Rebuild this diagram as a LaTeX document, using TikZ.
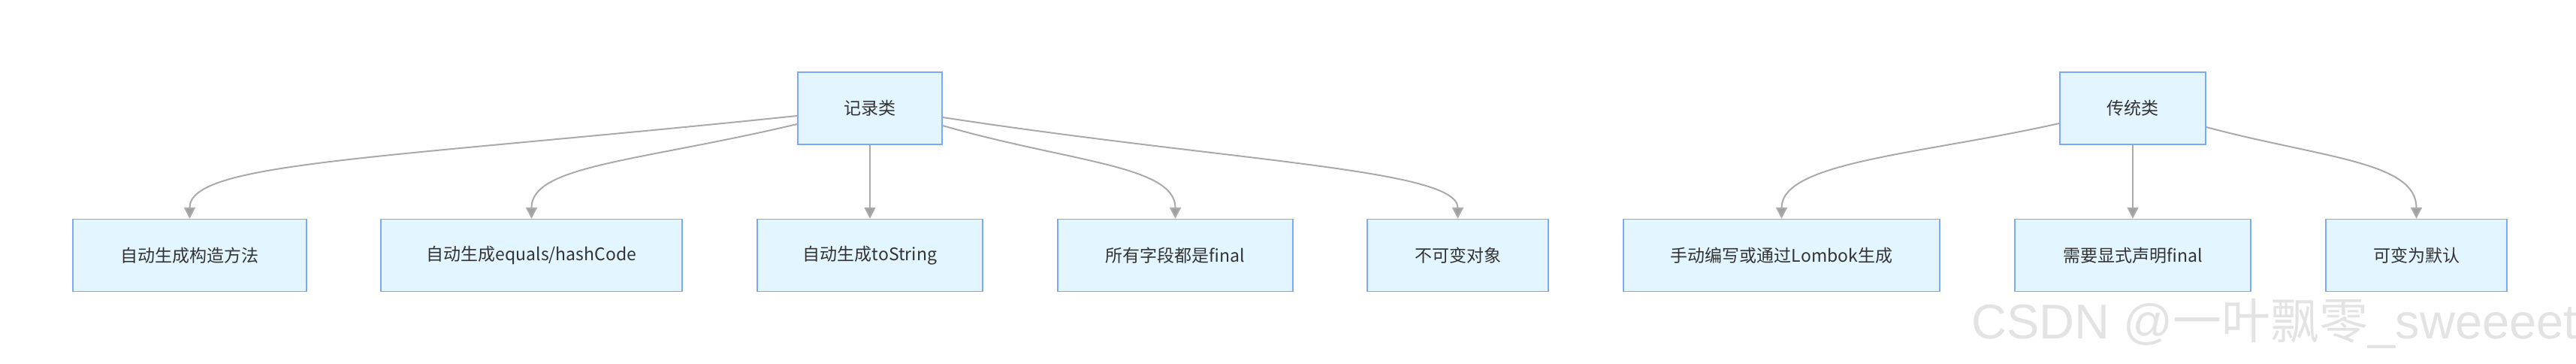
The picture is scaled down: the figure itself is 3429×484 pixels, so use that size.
\documentclass[tikz,border=0pt]{standalone}
\usepackage{fontspec}
\setmainfont{Noto Sans CJK SC}
\newfontfamily\markfont{Liberation Sans}
\newfontfamily\markcjk{Noto Sans CJK SC}
\usetikzlibrary{arrows.meta}
\definecolor{boxfill}{HTML}{E3F5FF}
\definecolor{boxline}{HTML}{7AA9FF}
\definecolor{edgeline}{HTML}{AAAAAA}
\definecolor{tipfill}{HTML}{A0A0A0}
\definecolor{txt}{HTML}{333333}
\begin{document}
\begin{tikzpicture}[x=1pt,y=-1pt,
    box/.style={draw=boxline,line width=1.5pt,fill=boxfill,text=txt,inner sep=0pt,
      minimum height=96pt,font=\fontsize{23}{28}\selectfont},
    edge/.style={draw=edgeline,line width=2pt,
      -{Triangle[length=15pt,width=15pt,fill=tipfill]}}]
  \useasboundingbox (0,0) rectangle (3429,484);
  % record class
  \node[box,minimum width=192pt] (rec) at (1158,144) {记录类};
  \node[box,minimum width=311pt] (ctor) at (252.5,339.5) {自动生成构造方法};
  \node[box,minimum width=401pt] (eq) at (707.5,339.5) {自动生成equals/hashCode};
  \node[box,minimum width=300pt] (tostr) at (1158,339.5) {自动生成toString};
  \node[box,minimum width=313pt] (fin) at (1564.5,339.5) {所有字段都是final};
  \node[box,minimum width=241pt] (immut) at (1940.5,339.5) {不可变对象};
  \draw[edge] ([yshift=-10pt]rec.west) .. controls +(-562,58) and +(0,-75) .. (ctor.north);
  \draw[edge] ([yshift=-21pt]rec.west) .. controls +(-212,50) and +(0,-71) .. (eq.north);
  \draw[edge] (rec.south) -- (tostr.north);
  \draw[edge] ([yshift=-23pt]rec.east) .. controls +(166,48) and +(0,-71) .. (fin.north);
  \draw[edge] ([yshift=-12pt]rec.east) .. controls +(386,59) and +(0,-66) .. (immut.north);
  % traditional class
  \node[box,minimum width=194pt] (trad) at (2839,144) {传统类};
  \node[box,minimum width=421pt] (manual) at (2371.5,339.5) {手动编写或通过Lombok生成};
  \node[box,minimum width=314pt] (expl) at (2839,339.5) {需要显式声明final};
  \node[box,minimum width=241pt] (mut) at (3216.5,339.5) {可变为默认};
  \draw[edge] ([yshift=-20pt]trad.west) .. controls +(-182,41) and +(0,-76) .. (manual.north);
  \draw[edge] (trad.south) -- (expl.north);
  \draw[edge] ([yshift=-25pt]trad.east) .. controls +(154,41) and +(0,-76) .. (mut.north);
  % watermark
  \node[anchor=base west,inner sep=0pt,text=gray!22,font=\fontsize{65}{70}\selectfont] (csdn) at (2624,450)
    {\markfont CSDN @\markcjk 一叶飘零\markfont\_sweeeet};
\end{tikzpicture}
\end{document}
